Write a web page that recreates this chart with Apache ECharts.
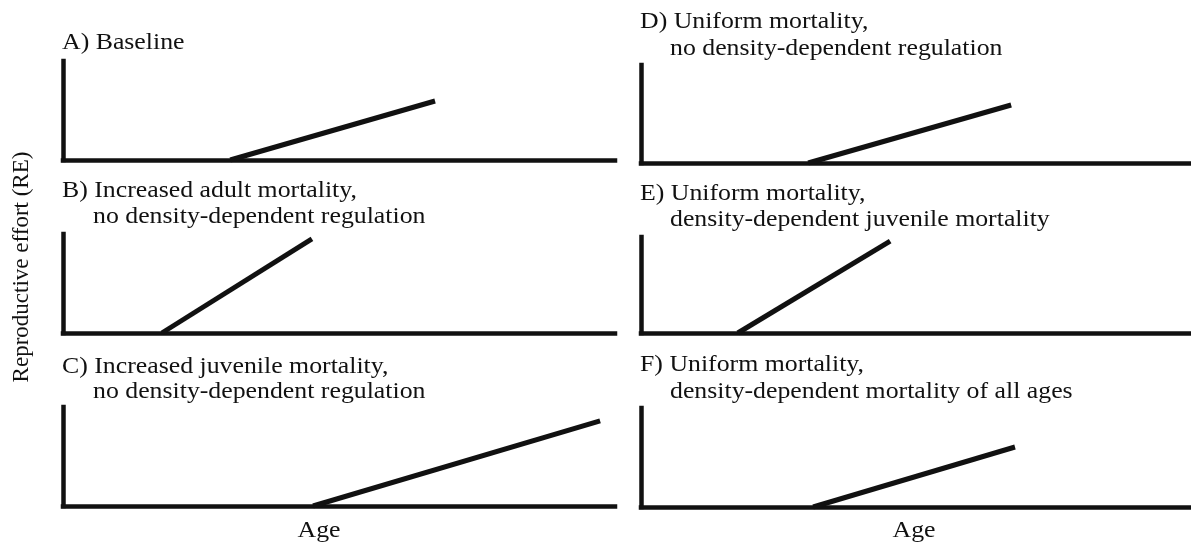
<!DOCTYPE html>
<html>
<head>
<meta charset="utf-8">
<script src="https://cdn.jsdelivr.net/npm/echarts@6/dist/echarts.min.js"></script>
<style>
html,body{margin:0;padding:0;background:#fff;}
#chart{width:1191px;height:549px;}
</style>
</head>
<body>
<div id="chart"></div>
<script>
// ---- data (Age and RE in relative units, 0-100 of each panel's axes) ----
const panelIds = ['A', 'B', 'C', 'D', 'E', 'F'];
const titleLine1 = ['A) Baseline', 'B) Increased adult mortality,', 'C) Increased juvenile mortality,',
                    'D) Uniform mortality,', 'E) Uniform mortality,', 'F) Uniform mortality,'];
const titleLine2 = ['', 'no density-dependent regulation', 'no density-dependent regulation',
                    'no density-dependent regulation', 'density-dependent juvenile mortality',
                    'density-dependent mortality of all ages'];
const onsetAge = [30.3, 17.9, 45.3, 30.4, 17.6, 31.3];   // age at which RE starts rising
const endAge   = [67.4, 45.1, 97.3, 67.3, 45.3, 68.0];   // last age drawn
const endRE    = [59.6, 95.0, 85.9, 59.2, 95.8, 60.6];   // RE at last age
const xAxisName = 'Age';
const yAxisName = 'Reproductive effort (RE)';

// ---- layout ----
const grids = [
  {left: 63,  top: 61,  width: 552, height: 99},
  {left: 63,  top: 234, width: 552, height: 99},
  {left: 63,  top: 407, width: 552, height: 99},
  {left: 641, top: 65,  width: 550, height: 98},
  {left: 641, top: 237, width: 550, height: 96},
  {left: 641, top: 408, width: 550, height: 99}
];
const titlePos = [
  {x: 62,  y1: 43,  x2: 93,  y2: 0},
  {x: 62,  y1: 191, x2: 93,  y2: 217},
  {x: 62,  y1: 367, x2: 93,  y2: 392},
  {x: 640, y1: 22,  x2: 670, y2: 49},
  {x: 640, y1: 194, x2: 670, y2: 220},
  {x: 640, y1: 365, x2: 670, y2: 392}
];
const FONT = '24px "Liberation Serif", "DejaVu Serif", serif';
const SX = 1.075;
const INK = '#111';

const axisLineStyle = {show: true, onZero: false, lineStyle: {color: INK, width: 4.5, cap: 'square'}};

const option = {
  backgroundColor: '#fff',
  animation: false,
  grid: grids.map(g => Object.assign({containLabel: false}, g)),
  xAxis: grids.map((g, i) => ({
    type: 'value', gridIndex: i, min: 0, max: 100,
    axisLine: axisLineStyle, axisTick: {show: false}, axisLabel: {show: false}, splitLine: {show: false}
  })),
  yAxis: grids.map((g, i) => ({
    type: 'value', gridIndex: i, min: 0, max: 100,
    axisLine: axisLineStyle, axisTick: {show: false}, axisLabel: {show: false}, splitLine: {show: false}
  })),
  series: panelIds.map((id, i) => ({
    name: id, type: 'line', xAxisIndex: i, yAxisIndex: i,
    showSymbol: false, symbol: 'none',
    lineStyle: {color: INK, width: 5, cap: 'butt'},
    data: [[onsetAge[i], 0], [endAge[i], endRE[i]]]
  })),
  graphic: []
};

panelIds.forEach((id, i) => {
  const p = titlePos[i];
  option.graphic.push({type: 'text', x: p.x, y: p.y1, scaleX: SX, silent: true,
    style: {text: titleLine1[i], font: FONT, fill: INK, textAlign: 'left', textVerticalAlign: 'middle'}});
  if (titleLine2[i]) {
    option.graphic.push({type: 'text', x: p.x2, y: p.y2, scaleX: SX, silent: true,
      style: {text: titleLine2[i], font: FONT, fill: INK, textAlign: 'left', textVerticalAlign: 'middle'}});
  }
});
option.graphic.push({type: 'text', x: 319, y: 531, scaleX: SX, silent: true,
  style: {text: xAxisName, font: FONT, fill: INK, textAlign: 'center', textVerticalAlign: 'middle'}});
option.graphic.push({type: 'text', x: 914, y: 531, scaleX: SX, silent: true,
  style: {text: xAxisName, font: FONT, fill: INK, textAlign: 'center', textVerticalAlign: 'middle'}});
option.graphic.push({type: 'text', x: 22, y: 267, rotation: Math.PI / 2, silent: true,
  style: {text: yAxisName, font: '23px "Liberation Serif", "DejaVu Serif", serif', fill: INK,
          textAlign: 'center', textVerticalAlign: 'middle'}});

const chart = echarts.init(document.getElementById('chart'), null, {renderer: 'canvas'});
chart.setOption(option);
</script>
</body>
</html>
